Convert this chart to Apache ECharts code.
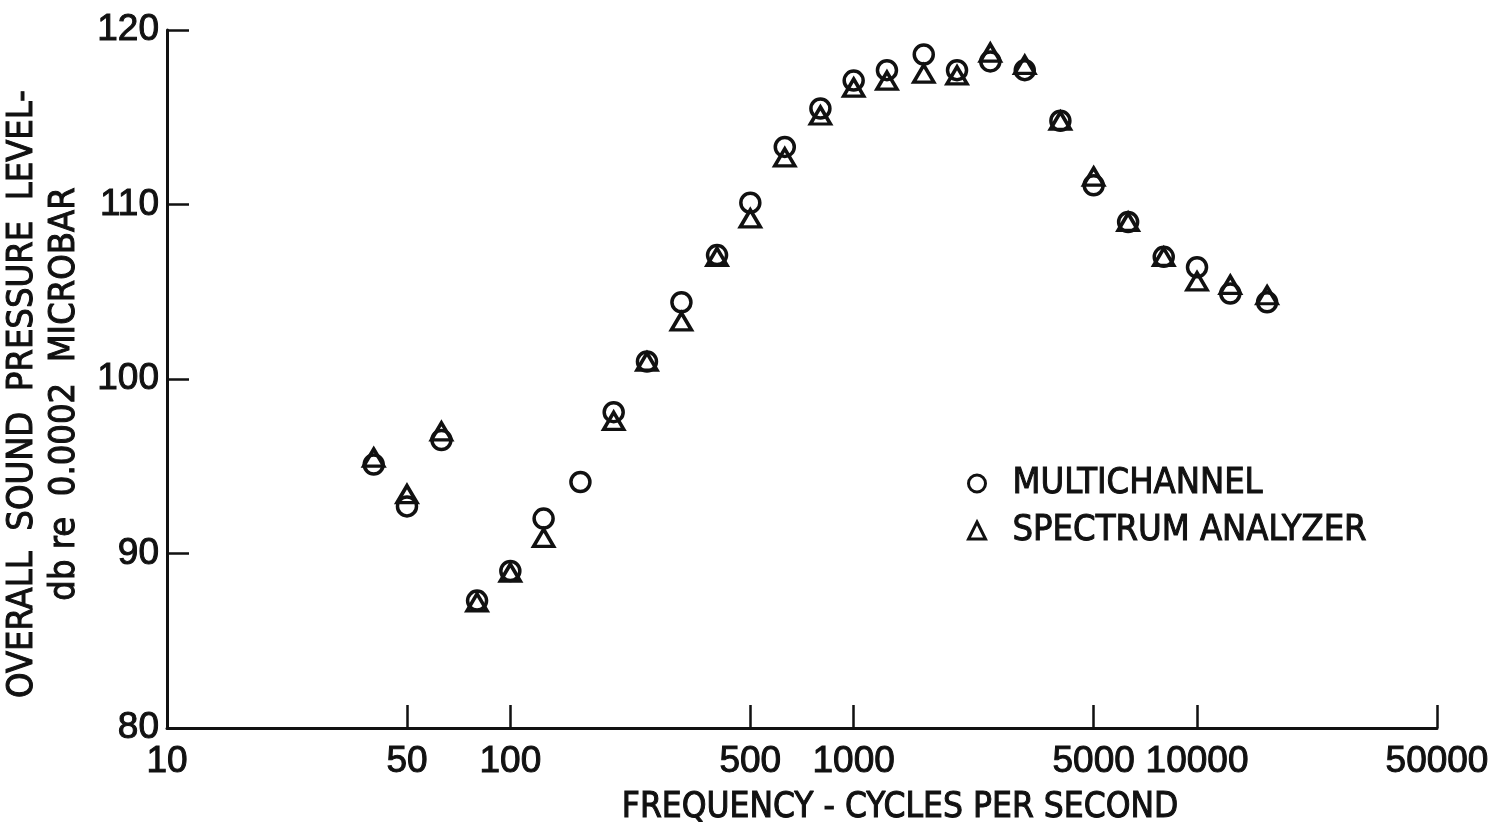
<!DOCTYPE html>
<html>
<head>
<meta charset="utf-8">
<script src="https://cdn.jsdelivr.net/npm/echarts@6/dist/echarts.min.js"></script>
<style>
  html, body { margin: 0; padding: 0; background: #fff; }
  #chart { width: 1499px; height: 825px; }
</style>
</head>
<body>
<div id="chart"></div>
<script>
// One-third-octave band centre frequencies, cycles per second
const frequencies = [40, 50, 63, 80, 100, 125, 160, 200, 250, 315, 400, 500, 630, 800,
  1000, 1250, 1600, 2000, 2500, 3150, 4000, 5000, 6300, 8000, 10000, 12500, 16000];

// Overall sound pressure level, db re 0.0002 microbar
const multichannel = [95.1, 92.7, 96.5, 87.3, 89.0, 92.0, 94.1, 98.1, 101.0, 104.4, 107.1, 110.1, 113.3, 115.5,
  117.1, 117.7, 118.6, 117.7, 118.2, 117.7, 114.8, 111.1, 109.0, 107.0, 106.4, 104.9, 104.4];
const spectrumAnalyzer = [95.5, 93.4, 97.0, 87.2, 88.9, 90.9, null, 97.6, 101.0, 103.3, 107.0, 109.2, 112.7, 115.1,
  116.7, 117.1, 117.5, 117.4, 118.7, 118.0, 114.8, 111.6, 109.0, 107.0, 105.6, 105.4, 104.8];

// Axis tick values
const freqTicks = [10, 50, 100, 500, 1000, 5000, 10000, 50000];
const levelTicks = [80, 90, 100, 110, 120];

const ink = '#111';
const narrow = '"Liberation Sans Narrow", "DejaVu Sans Condensed", sans-serif';
const digits = '"Liberation Sans", "DejaVu Sans", sans-serif';
const heavy = { textBorderColor: ink, textBorderWidth: 1 };

function pairs(values) {
  return frequencies.map((f, i) => [f, values[i]]).filter(p => p[1] != null);
}

const chart = echarts.init(document.getElementById('chart'), null, { renderer: 'canvas' });

chart.setOption({
  backgroundColor: '#fff',
  animation: false,
  grid: { left: 167, right: 62, top: 30, bottom: 97, containLabel: false, outerBoundsMode: 'none' },
  xAxis: {
    type: 'log',
    logBase: 10,
    min: 10,
    max: 50000,
    name: 'FREQUENCY - CYCLES PER SECOND',
    nameLocation: 'middle',
    nameGap: 62,
    nameTextStyle: Object.assign({ fontFamily: narrow, fontSize: 35, color: ink, padding: [0, 0, 0, 196] }, heavy),
    axisLine: { show: true, lineStyle: { color: ink, width: 3 } },
    axisTick: { show: true, inside: true, length: 23, customValues: freqTicks, lineStyle: { color: ink, width: 2.5 } },
    minorTick: { show: false },
    axisLabel: Object.assign({
      customValues: freqTicks,
      margin: 15,
      fontFamily: digits, fontSize: 37, color: ink,
      formatter: v => String(Math.round(v))
    }, heavy),
    splitLine: { show: false }
  },
  yAxis: {
    type: 'value',
    min: 80,
    max: 120,
    interval: 10,
    name: 'OVERALL  SOUND  PRESSURE  LEVEL-\ndb re  0.0002  MICROBAR',
    nameLocation: 'middle',
    nameGap: 74,
    nameRotate: 90,
    nameTextStyle: Object.assign({ fontFamily: narrow, fontSize: 36, lineHeight: 42, color: ink, align: 'center', padding: [0, 30, 0, 0] }, heavy),
    axisLine: { show: true, lineStyle: { color: ink, width: 3 } },
    axisTick: { show: true, inside: true, length: 22, customValues: levelTicks.slice(1), lineStyle: { color: ink, width: 2.5 } },
    axisLabel: Object.assign({ margin: 8, fontFamily: digits, fontSize: 37, color: ink }, heavy),
    splitLine: { show: false }
  },
  legend: {
    orient: 'vertical',
    left: 962,
    top: 460,
    itemWidth: 17,
    itemHeight: 17,
    itemGap: 10,
    selectedMode: false,
    textStyle: Object.assign({ fontFamily: narrow, fontSize: 36, lineHeight: 36, color: ink, padding: [0, 0, 0, 22] }, heavy),
    data: [
      { name: 'MULTICHANNEL', icon: 'circle', itemStyle: { color: 'rgba(0,0,0,0)', borderColor: ink, borderWidth: 3 } },
      { name: 'SPECTRUM ANALYZER', icon: 'triangle', itemStyle: { color: 'rgba(0,0,0,0)', borderColor: ink, borderWidth: 3 } }
    ]
  },
  series: [
    {
      name: 'MULTICHANNEL',
      type: 'scatter',
      symbol: 'circle',
      symbolSize: 19,
      itemStyle: { color: 'rgba(0,0,0,0)', borderColor: ink, borderWidth: 3.5, opacity: 1 },
      data: pairs(multichannel),
      z: 2
    },
    {
      name: 'SPECTRUM ANALYZER',
      type: 'scatter',
      symbol: 'triangle',
      symbolSize: [20, 17],
      itemStyle: { color: 'rgba(0,0,0,0)', borderColor: ink, borderWidth: 3.5, opacity: 1 },
      data: pairs(spectrumAnalyzer),
      z: 3
    }
  ]
});
</script>
</body>
</html>
